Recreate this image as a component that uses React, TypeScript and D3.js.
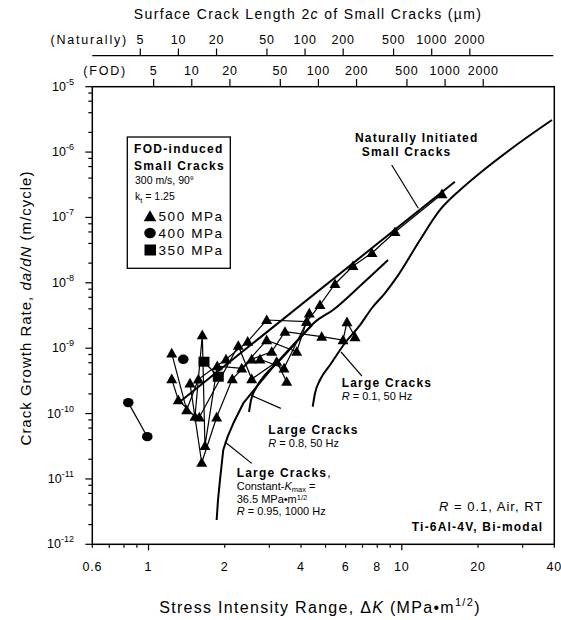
import React from 'react';
import * as d3 from 'd3';

// ---------- DATA ----------
const xTickValues = [0.6, 1, 2, 4, 6, 8, 10, 20, 40];
const xTickLabels = ['0.6', '1', '2', '4', '6', '8', '10', '20', '40'];
const yDecades = [-12, -11, -10, -9, -8, -7, -6, -5];
const crackLengthTicks = [5, 10, 20, 50, 100, 200, 500, 1000, 2000];
const naturalDK5 = 0.928; // ΔK for 2c = 5 µm (naturally initiated)
const fodDK5 = 1.048; // ΔK for 2c = 5 µm (FOD)

const naturallyLine: [number, number][] = [
  [1.33, 1.52e-10],
  [16.2, 3.52e-7],
];

const largeR01: [number, number][] = [
  [4.449, 1.27e-10], [4.543, 2.04e-10], [4.753, 3.26e-10], [5.208, 5.53e-10],
  [5.969, 1.2e-9], [6.839, 2.26e-9], [7.627, 4.12e-9], [8.585, 6.98e-9],
  [9.573, 1.23e-8], [11.8, 4.52e-8], [14.15, 1.3e-7], [16.98, 2.63e-7],
  [20.36, 4.79e-7], [27.99, 1.24e-6], [39.17, 3.1e-6],
];

const largeR08: [number, number][] = [
  [2.494, 1.06e-10], [2.54, 1.61e-10], [2.657, 2.46e-10], [2.884, 3.89e-10],
  [3.304, 6.59e-10], [3.964, 1.43e-9], [4.543, 2.51e-9], [5.35, 3.84e-9],
  [6.839, 8.94e-9], [8.822, 2.23e-8],
];

const largeR095: [number, number][] = [
  [1.858, 2.35e-12], [1.881, 4.76e-12], [1.915, 9.62e-12], [1.973, 2.77e-11],
  [2.054, 4.43e-11], [2.162, 7.1e-11], [2.368, 1.44e-10], [2.674, 2.58e-10],
  [3.11, 5.21e-10], [3.788, 1.2e-9], [4.421, 2.26e-9],
];

const fod500Series: [number, number][][] = [
  [[1.235, 8.35e-10], [1.415, 1.13e-10], [1.573, 3.34e-10], [2.023, 6.76e-10], [2.464, 1.26e-9],
   [2.928, 2.7e-9], [4.213, 2.54e-9], [4.754, 4.58e-9], [5.448, 9.6e-9], [6.417, 1.81e-8],
   [7.627, 2.86e-8], [9.4, 5.99e-8], [14.41, 2.28e-7]],
  [[1.235, 3.37e-10], [1.311, 1.61e-10], [1.526, 8.95e-11], [1.631, 1.59e-9], [1.671, 3.2e-11],
   [1.869, 5.33e-10], [2.333, 4.92e-10], [2.928, 1.33e-9], [3.846, 8.83e-10], [4.313, 3.42e-9]],
  [[1.458, 2.9e-10], [1.622, 1.77e-11], [1.858, 8.77e-11], [2.142, 3.37e-10], [2.555, 6.76e-10],
   [3.064, 8.83e-10], [3.458, 1.79e-9], [4.829, 1.5e-9], [5.861, 1.33e-9], [6.076, 2.51e-9],
   [6.536, 1.48e-9]],
  [[1.587, 8.77e-11], [2.262, 1.09e-9], [2.555, 3.37e-10], [3.207, 6.21e-10], [3.512, 3.07e-10]],
  [[2.755, 6.76e-10], [3.427, 4.92e-10], [4.213, 2.54e-9]],
];

const fod400Series: [number, number][][] = [
  [[0.832, 1.47e-10], [0.989, 4.43e-11]],
  [[1.372, 6.76e-10]],
];

const fod350Series: [number, number][][] = [
  [[1.656, 6.21e-10], [1.886, 3.66e-10]],
];

// ---------- LAYOUT ----------
const W = 561, H = 620;
const L = 92.3, R = 554.3, T = 86.7, B = 544.3;
const FONT = "'Liberation Sans', Arial, Helvetica, sans-serif";

const x = d3.scaleLog().domain([0.6, 40]).range([L, R]);
const y = d3.scaleLog().domain([1e-12, 1e-5]).range([B, T]);
const line = d3.line<[number, number]>().x(d => x(d[0])).y(d => y(d[1]));
const curve = d3.line<[number, number]>().x(d => x(d[0])).y(d => y(d[1])).curve(d3.curveMonotoneX);

const tri = (cx: number, cy: number, s = 5.5) =>
  `M${cx},${cy - s}L${cx + s},${cy + s * 0.75}L${cx - s},${cy + s * 0.75}Z`;

function App() {
  React.useEffect(() => { document.body.style.margin = '0'; }, []);

  const xMinor: number[] = [];
  [0.1, 1, 10].forEach(dec => { for (let k = 1; k <= 9; k++) { const v = dec * k; if (v >= 0.6 && v <= 40) xMinor.push(v); } });
  const yMinor: number[] = [];
  for (let e = -12; e < -5; e++) [2, 4, 6, 8].forEach(k => yMinor.push(k * Math.pow(10, e)));

  const natX = (c: number) => x(naturalDK5 * Math.sqrt(c / 5));
  const fodX = (c: number) => x(fodDK5 * Math.sqrt(c / 5));

  return (
    <svg width={W} height={H} style={{ position: 'absolute', left: 0, top: 0, background: '#fff' }} fontFamily={FONT}>
      <rect x={0} y={0} width={W} height={H} fill="#fff" />
      {/* top title */}
      <text x={308} y={19} textAnchor="middle" fontSize={14} letterSpacing={1.35}>
        Surface Crack Length 2<tspan fontStyle="italic">c</tspan> of Small Cracks (µm)
      </text>
      {/* naturally axis */}
      <line x1={L} x2={R - 1} y1={55.7} y2={55.7} stroke="#000" strokeWidth={1.3} />
      <text x={128} y={44} textAnchor="end" fontSize={12.5} letterSpacing={1.8}>(Naturally)</text>
      {crackLengthTicks.map(c => (
        <g key={'n' + c}>
          <line x1={natX(c)} x2={natX(c)} y1={55.7} y2={48.5} stroke="#000" strokeWidth={1.2} />
          <text x={natX(c)} y={44} textAnchor="middle" fontSize={12.5} letterSpacing={0.8}>{c}</text>
        </g>
      ))}
      {/* FOD axis */}
      <text x={127} y={75} textAnchor="end" fontSize={12.5} letterSpacing={1.8}>(FOD)</text>
      {crackLengthTicks.map(c => (
        <g key={'f' + c}>
          <line x1={fodX(c)} x2={fodX(c)} y1={T} y2={79} stroke="#000" strokeWidth={1.2} />
          <text x={fodX(c)} y={75} textAnchor="middle" fontSize={12.5} letterSpacing={0.8}>{c}</text>
        </g>
      ))}

      {/* frame */}
      <rect x={L} y={T} width={R - L} height={B - T} fill="none" stroke="#000" strokeWidth={1.5} />

      {/* x axis ticks */}
      {xMinor.map(v => {
        const major = Math.abs(Math.log10(v) - Math.round(Math.log10(v))) < 1e-9;
        return <line key={'xm' + v} x1={x(v)} x2={x(v)} y1={B} y2={B + (major ? 6 : 3.5)} stroke="#000" strokeWidth={1.2} />;
      })}
      {xTickValues.map((v, i) => (
        <text key={'xl' + v} x={x(v)} y={571} textAnchor="middle" fontSize={12.5} letterSpacing={0.8}>{xTickLabels[i]}</text>
      ))}
      <text x={320} y={613} textAnchor="middle" fontSize={16} letterSpacing={1.3}>
        Stress Intensity Range, Δ<tspan fontStyle="italic">K</tspan>  (MPa•m<tspan dy={-7} fontSize={11}>1/2</tspan><tspan dy={7}>)</tspan>
      </text>

      {/* y axis ticks */}
      {yDecades.map(e => (
        <g key={'yd' + e}>
          <line x1={L} x2={L - 7} y1={y(Math.pow(10, e))} y2={y(Math.pow(10, e))} stroke="#000" strokeWidth={1.2} />
          <text x={74} y={y(Math.pow(10, e)) + 4} textAnchor="end" fontSize={12.5}>
            10<tspan dy={-6} fontSize={9}>{String(e)}</tspan>
          </text>
        </g>
      ))}
      {yMinor.map(v => (
        <line key={'ym' + v} x1={L} x2={L - 4} y1={y(v)} y2={y(v)} stroke="#000" strokeWidth={1.2} />
      ))}
      <text transform={`translate(31,308) rotate(-90)`} textAnchor="middle" fontSize={15} letterSpacing={1}>
        Crack Growth Rate, <tspan fontStyle="italic">da/dN</tspan>  (m/cycle)
      </text>

      {/* large crack curves */}
      <path d={curve(largeR01) || ''} fill="none" stroke="#000" strokeWidth={2} />
      <path d={curve(largeR08) || ''} fill="none" stroke="#000" strokeWidth={2} />
      <path d={line(largeR095) || ''} fill="none" stroke="#000" strokeWidth={2} strokeLinejoin="round" />
      <path d={line(naturallyLine) || ''} fill="none" stroke="#000" strokeWidth={2} />

      {/* FOD series lines */}
      {[...fod500Series, ...fod400Series, ...fod350Series].map((s, i) => (
        <path key={'fl' + i} d={line(s) || ''} fill="none" stroke="#000" strokeWidth={1.2} />
      ))}
      {fod500Series.flat().map((d, i) => <path key={'t' + i} d={tri(x(d[0]), y(d[1]))} fill="#000" />)}
      {fod400Series.flat().map((d, i) => <ellipse key={'c' + i} cx={x(d[0])} cy={y(d[1])} rx={5.3} ry={4.7} fill="#000" />)}
      {fod350Series.flat().map((d, i) => <rect key={'s' + i} x={x(d[0]) - 5.5} y={y(d[1]) - 5} width={11} height={10} fill="#000" />)}

      {/* legend */}
      <rect x={127.3} y={137} width={103} height={131.3} fill="#fff" stroke="#000" strokeWidth={1.3} />
      <text x={134} y={152.5} fontSize={12} fontWeight="bold" letterSpacing={1.3}>FOD-induced</text>
      <text x={134} y={169.5} fontSize={12} fontWeight="bold" letterSpacing={1.3}>Small Cracks</text>
      <text x={135} y={184} fontSize={10.5}>300 m/s, 90°</text>
      <text x={135} y={200} fontSize={10.5}>k<tspan dy={3} fontSize={7.5}>t</tspan><tspan dy={-3}> = 1.25</tspan></text>
      <path d={tri(150, 216.5, 6.3)} fill="#000" />
      <text x={158.5} y={221} fontSize={13.5} letterSpacing={1.6}>500 MPa</text>
      <ellipse cx={150} cy={233} rx={5.8} ry={5.2} fill="#000" />
      <text x={158.5} y={237.5} fontSize={13.5} letterSpacing={1.6}>400 MPa</text>
      <rect x={144.5} y={244.5} width={11.5} height={11} fill="#000" />
      <text x={158.5} y={255} fontSize={13.5} letterSpacing={1.6}>350 MPa</text>

      {/* annotations */}
      <text x={355} y={142} fontSize={12} fontWeight="bold" letterSpacing={1.2}>Naturally Initiated</text>
      <text x={361.7} y={156} fontSize={12} fontWeight="bold" letterSpacing={1.2}>Small Cracks</text>
      <line x1={x(9.123)} y1={y(6.34e-7)} x2={x(11.62)} y2={y(1.38e-7)} stroke="#000" strokeWidth={1.2} />

      <text x={341.7} y={387} fontSize={12} fontWeight="bold" letterSpacing={1.2}>Large Cracks</text>
      <text x={341.7} y={400} fontSize={11}><tspan fontStyle="italic">R</tspan> = 0.1, 50 Hz</text>
      <line x1={x(5.754)} y1={y(8.74e-10)} x2={x(6.964)} y2={y(3.75e-10)} stroke="#000" strokeWidth={1.2} />

      <text x={268.3} y={434} fontSize={12} fontWeight="bold" letterSpacing={1.2}>Large Cracks</text>
      <text x={268.3} y={447} fontSize={11}><tspan fontStyle="italic">R</tspan> = 0.8, 50 Hz</text>
      <line x1={x(2.54)} y1={y(1.9e-10)} x2={x(3.33)} y2={y(1.2e-10)} stroke="#000" strokeWidth={1.2} />

      <text x={236.7} y={477} fontSize={12} fontWeight="bold" letterSpacing={1.2}>Large Cracks<tspan fontWeight="normal">,</tspan></text>
      <text x={236.7} y={490} fontSize={11}>Constant-<tspan fontStyle="italic">K</tspan><tspan dy={2} fontSize={7.5}>max</tspan><tspan dy={-2}> =</tspan></text>
      <text x={236.7} y={503} fontSize={11}>36.5 MPa•m<tspan dy={-3} fontSize={7.5}>1/2</tspan></text>
      <text x={236.7} y={515} fontSize={11}><tspan fontStyle="italic">R</tspan> = 0.95, 1000 Hz</text>
      <line x1={x(2.0)} y1={y(3.7e-11)} x2={x(2.555)} y2={y(1.73e-11)} stroke="#000" strokeWidth={1.2} />

      <text x={543.3} y={511} textAnchor="end" fontSize={13} letterSpacing={1}><tspan fontStyle="italic">R</tspan> = 0.1, Air, RT</text>
      <text x={543.3} y={531} textAnchor="end" fontSize={12} fontWeight="bold" letterSpacing={1.2}>Ti-6Al-4V, Bi-modal</text>
    </svg>
  );
}

export default App;
